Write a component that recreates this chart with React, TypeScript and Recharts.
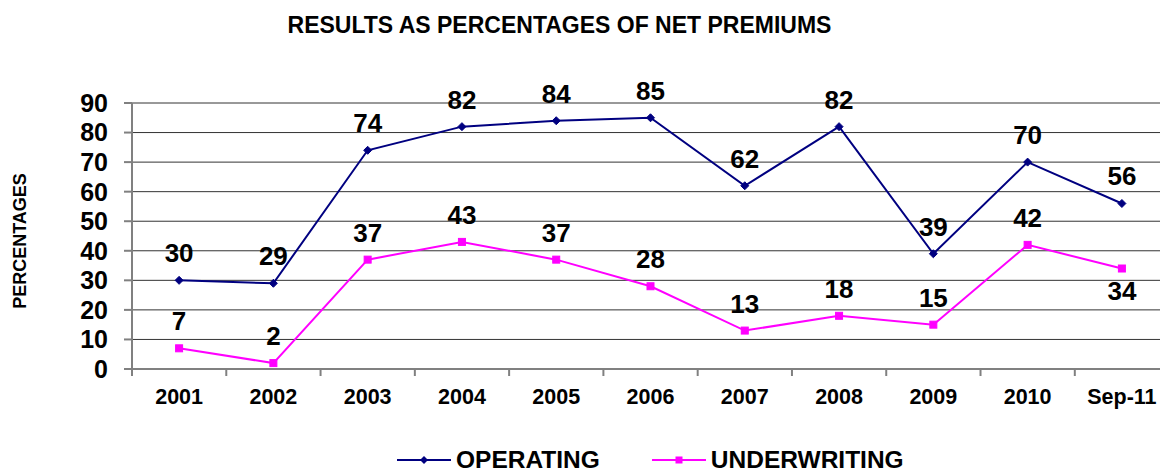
import React from 'react';
import { LineChart, Line, XAxis, YAxis, CartesianGrid, Legend, LabelList } from 'recharts';

const categories = ['2001', '2002', '2003', '2004', '2005', '2006', '2007', '2008', '2009', '2010', 'Sep-11'];
const operating = [30, 29, 74, 82, 84, 85, 62, 82, 39, 70, 56];
const underwriting = [7, 2, 37, 43, 37, 28, 13, 18, 15, 42, 34];
const yTicks = [0, 10, 20, 30, 40, 50, 60, 70, 80, 90];
const chartTitle = 'RESULTS AS PERCENTAGES OF NET PREMIUMS';
const yAxisTitle = 'PERCENTAGES';
const operatingName = 'OPERATING';
const underwritingName = 'UNDERWRITING';

const data = categories.map((c, i) => ({
  category: c,
  operating: operating[i],
  underwriting: underwriting[i],
}));

const FONT = '"Liberation Sans", Arial, Helvetica, sans-serif';
const NAVY = '#000080';
const MAGENTA = '#FF00FF';
const AXIS_GRAY = '#808080';
const HALF_BAND = 47.1;

const DiamondDot = (props: any) => {
  const { cx, cy } = props;
  if (cx == null || cy == null) return null;
  const r = 4;
  return (
    <path
      d={`M${cx},${cy - r} L${cx + r},${cy} L${cx},${cy + r} L${cx - r},${cy} Z`}
      fill={NAVY}
      stroke={NAVY}
      strokeWidth={1}
    />
  );
};

const SquareDot = (props: any) => {
  const { cx, cy } = props;
  if (cx == null || cy == null) return null;
  const s = 7;
  return <rect x={cx - s / 2} y={cy - s / 2} width={s} height={s} fill={MAGENTA} stroke={MAGENTA} />;
};

const XTick = (props: any) => {
  const { x, y, payload } = props;
  return (
    <g>
      <line x1={x - HALF_BAND} y1={y} x2={x - HALF_BAND} y2={y + 7} stroke={AXIS_GRAY} strokeWidth={2} />
      <text
        x={x}
        y={y + 35}
        textAnchor="middle"
        fontFamily={FONT}
        fontWeight="bold"
        fontSize={21.5}
        fill="#000"
      >
        {payload.value}
      </text>
    </g>
  );
};

const makeLabel = (below: (i: number) => boolean) => (props: any) => {
  const { x, y, value, index } = props;
  if (x == null || y == null) return null;
  const ty = below(index) ? y + 31 : y - 18;
  return (
    <text x={x} y={ty} textAnchor="middle" fontFamily={FONT} fontWeight="bold" fontSize={26} fill="#000">
      {value}
    </text>
  );
};

const opLabel = makeLabel(() => false);
const uwLabel = makeLabel((i) => i === categories.length - 1);

const renderLegend = (props: any) => {
  const { payload } = props;
  return (
    <div
      style={{
        display: 'flex',
        alignItems: 'center',
        paddingLeft: 397,
        gap: 52,
        height: 26,
        fontFamily: FONT,
        fontWeight: 'bold',
        fontSize: 24.5,
        lineHeight: '26px',
        color: '#000',
      }}
    >
      {(payload || []).map((entry: any) => {
        const isOp = entry.dataKey === 'operating';
        const color = entry.color;
        return (
          <div key={entry.value} style={{ display: 'flex', alignItems: 'center', gap: 5 }}>
            <svg width={54} height={26}>
              <line x1={0} y1={13} x2={54} y2={13} stroke={color} strokeWidth={2} />
              {isOp ? (
                <path d="M27,9 L31,13 L27,17 L23,13 Z" fill={color} />
              ) : (
                <rect x={23.5} y={9.5} width={7} height={7} fill={color} />
              )}
            </svg>
            <span>{entry.value}</span>
          </div>
        );
      })}
    </div>
  );
};

export default function App() {
  return (
    <div
      style={{
        position: 'absolute',
        left: 0,
        top: 0,
        width: 1160,
        height: 474,
        overflow: 'hidden',
        background: '#fff',
      }}
    >
      <div
        style={{
          position: 'absolute',
          left: 0,
          top: 14,
          width: 1119,
          textAlign: 'center',
          fontFamily: FONT,
          fontWeight: 'bold',
          fontSize: 23,
          lineHeight: '23px',
          color: '#000',
          whiteSpace: 'nowrap',
        }}
      >
        {chartTitle}
      </div>
      <div
        style={{
          position: 'absolute',
          left: 20,
          top: 241,
          transform: 'translate(-50%, -50%) rotate(-90deg)',
          fontFamily: FONT,
          fontWeight: 'bold',
          fontSize: 18,
          lineHeight: '18px',
          color: '#000',
          whiteSpace: 'nowrap',
        }}
      >
        {yAxisTitle}
      </div>
      <div style={{ position: 'absolute', left: 0, top: 0 }}>
        <LineChart
          width={1180}
          height={474}
          data={data}
          margin={{ top: 103, right: 11, bottom: 0, left: 0 }}
        >
          <CartesianGrid vertical={false} stroke="#333" strokeWidth={1} />
          <XAxis
            dataKey="category"
            height={105}
            interval={0}
            padding={{ left: HALF_BAND, right: HALF_BAND }}
            tickSize={0}
            tickMargin={0}
            tickLine={false}
            axisLine={{ stroke: AXIS_GRAY, strokeWidth: 2 }}
            tick={<XTick />}
          />
          <YAxis
            domain={[0, 90]}
            ticks={yTicks}
            interval={0}
            width={132}
            tickSize={8}
            tickMargin={16}
            axisLine={{ stroke: AXIS_GRAY, strokeWidth: 2 }}
            tickLine={{ stroke: AXIS_GRAY, strokeWidth: 2 }}
            tick={{ fontSize: 25, fontWeight: 'bold', fill: '#000', fontFamily: FONT }}
          />
          <Legend
            layout="horizontal"
            verticalAlign="middle"
            align="center"
            content={renderLegend}
            wrapperStyle={{ top: 447, left: 0, width: 1180, height: 26 }}
          />
          <Line
            type="linear"
            dataKey="operating"
            name={operatingName}
            stroke={NAVY}
            strokeWidth={2}
            dot={<DiamondDot />}
            activeDot={false}
            isAnimationActive={false}
          >
            <LabelList dataKey="operating" content={opLabel} />
          </Line>
          <Line
            type="linear"
            dataKey="underwriting"
            name={underwritingName}
            stroke={MAGENTA}
            strokeWidth={2}
            dot={<SquareDot />}
            activeDot={false}
            isAnimationActive={false}
          >
            <LabelList dataKey="underwriting" content={uwLabel} />
          </Line>
        </LineChart>
      </div>
    </div>
  );
}
